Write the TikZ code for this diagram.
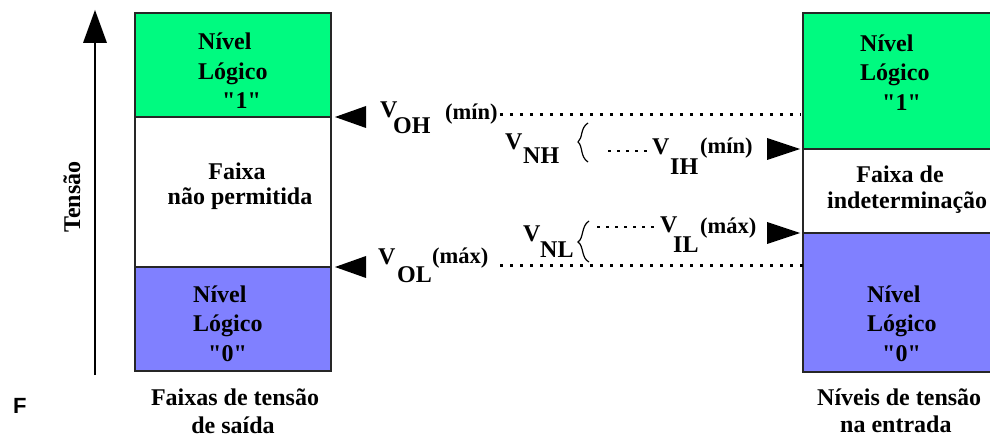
\documentclass[tikz,border=0pt]{standalone}
\usepackage{fontspec}
\newfontfamily\serifF{Liberation Serif}
\newfontfamily\sansF{Liberation Sans}
\definecolor{hiGreen}{RGB}{0,250,128}
\definecolor{loBlue}{RGB}{128,128,255}
\newcommand{\qq}[1]{\textquotedbl#1\textquotedbl}
\begin{document}
\begin{tikzpicture}[x=1pt,y=-1pt,
  band/.style={draw=black!85,line width=2pt},
  txt/.style={font=\serifF\fontsize{24}{29}\selectfont\bfseries,inner sep=0pt,anchor=base west},
  ctxt/.style={font=\serifF\fontsize{24}{29}\selectfont\bfseries,inner sep=0pt,anchor=base},
  small/.style={font=\serifF\fontsize{22.5}{24}\selectfont\bfseries,inner sep=0pt,anchor=base west},
  dots/.style={line width=3pt,dash pattern=on 3pt off 7pt},
  shortdots/.style={line width=2.5pt,dash pattern=on 3pt off 6pt},
  marker/.style={fill=black},
  bracepath/.style={line width=1.2pt}]
\useasboundingbox (0,0) rectangle (990,438);
\begin{scope}
\clip (0,0) rectangle (990,438);

% axis
\coordinate (axb) at (95,375);
\coordinate (axt) at (95,40);
\draw[line width=2pt] (axb) -- (axt);
\fill (95,10) -- (83,43) -- (107,43) -- cycle;
\node[txt,rotate=90] (tensao) at (80,233) {Tensão};
\node[font=\sansF\fontsize{22}{24}\selectfont\bfseries,inner sep=0pt,anchor=base west] (F) at (13,413) {F};

% left bands
\path[band,fill=hiGreen] (135,13) rectangle (331,117);
\path[band,fill=white] (135,117) rectangle (331,267);
\path[band,fill=loBlue] (135,267) rectangle (331,371);
\coordinate (LH) at (331,117);
\coordinate (LL) at (331,267);

\node[txt] (l1a) at (198,50) {Nível};
\node[txt] (l1b) at (198,80) {Lógico};
\node[txt] (l1c) at (222,109) {\qq{1}};
\node[ctxt] (l2a) at (237,180) {Faixa};
\node[ctxt] (l2b) at (240,205) {não permitida};
\node[txt] (l3a) at (193,302) {Nível};
\node[txt] (l3b) at (193,331) {Lógico};
\node[txt] (l3c) at (208,361) {\qq{0}};
\node[ctxt] (lca) at (235,405) {Faixas de tensão};
\node[ctxt] (lcb) at (233,433) {de saída};

% right bands
\path[band,fill=hiGreen] (803,13) rectangle (997,149);
\path[band,fill=white] (803,149) rectangle (997,233);
\path[band,fill=loBlue] (803,233) rectangle (997,372);
\coordinate (RH) at (803,149);
\coordinate (RL) at (803,233);

\node[txt] (r1a) at (860,52) {Nível};
\node[txt] (r1b) at (860,81) {Lógico};
\node[txt] (r1c) at (882,111) {\qq{1}};
\node[ctxt] (r2a) at (900,183) {Faixa de};
\node[txt] (r2b) at (827,209) {indeterminação};
\node[txt] (r3a) at (867,302) {Nível};
\node[txt] (r3b) at (867,331) {Lógico};
\node[txt] (r3c) at (882,361) {\qq{0}};
\node[txt] (rca) at (817,405) {Níveis de tensão};
\node[txt] (rcb) at (840,432) {na entrada};

% markers at left box
\fill[marker] ([xshift=4pt]LH) -- ++(31,-11) -- ++(0,22) -- cycle;
\fill[marker] ([xshift=4pt]LL) -- ++(31,-11) -- ++(0,22) -- cycle;
% markers at right box
\fill[marker] ([xshift=-3pt]RH) -- ++(-33,-11) -- ++(0,22) -- cycle;
\fill[marker] ([xshift=-3pt]RL) -- ++(-33,-11) -- ++(0,22) -- cycle;

% VOH
\node[txt] (voh) at (380,118) {V};
\node[txt] (vohs) at (393,134) {OH};
\node[small] (vohm) at (445,120) {(mín)};
\coordinate (dhR) at (800,115);
\draw[dots] (vohm.east |- dhR) ++(2,0) -- (dhR);

% VOL
\node[txt] (vol) at (378,265) {V};
\node[txt] (vols) at (397,283) {OL};
\node[small] (volm) at (432,264) {(máx)};
\coordinate (dlR) at (803,266);
\draw[dots] (500,266) -- (dlR);

% VNH
\node[txt] (vnh) at (505,150) {V};
\node[txt] (vnhs) at (523,164) {NH};
\draw[bracepath] (588,123) .. controls (580,128) and (583,138) .. (578,142)
                 .. controls (583,146) and (580,157) .. (588,162);
\node[txt] (vih) at (652,155) {V};
\node[txt] (vihs) at (670,175) {IH};
\node[small] (vihm) at (700,154) {(mín)};
\coordinate (sdh) at (608,151);
\draw[shortdots] (sdh) -- (648,151);

% VNL
\node[txt] (vnl) at (523,242) {V};
\node[txt] (vnls) at (540,258) {NL};
\draw[bracepath] (589,221) .. controls (581,226) and (584,238) .. (578,242)
                 .. controls (584,246) and (581,258) .. (589,262);
\node[txt] (vil) at (660,233) {V};
\node[txt] (vils) at (673,253) {IL};
\node[small] (vilm) at (700,234) {(máx)};
\coordinate (sdl) at (597,227);
\draw[shortdots] (sdl) -- (658,227);
\end{scope}
\end{tikzpicture}
\end{document}
